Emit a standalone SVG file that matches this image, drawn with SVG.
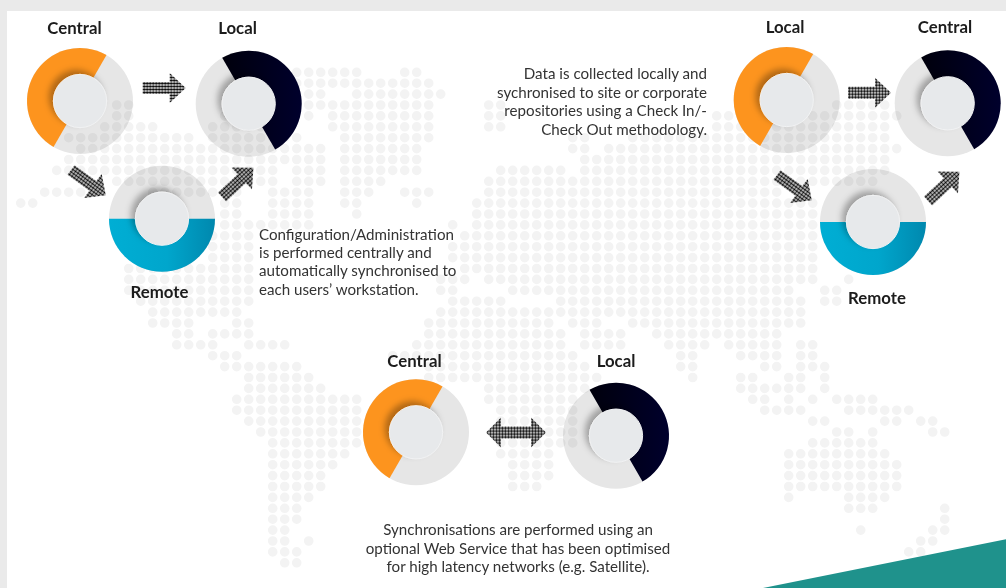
<svg xmlns="http://www.w3.org/2000/svg" width="1006" height="588" viewBox="0 0 1006 588">
<style>
text{font-family:Lato,"Open Sans","Liberation Sans",sans-serif}
.lbl{font-size:16.8px;font-weight:700;fill:#1c1c1c;text-anchor:middle}
.body{font-size:15.15px;fill:#333}
.map path{fill:none;stroke:#f3f3f3;stroke-width:9.6;stroke-linecap:round;stroke-dasharray:0 12}
.disc{fill:#e6e6e6;mix-blend-mode:multiply}
.hub{fill:#e7e9eb;stroke:#f1f2f3;stroke-width:1;filter:url(#sh)}
.arrow{fill:url(#dots)}
</style>
<defs>
<linearGradient id="gBlue" x1="0" x2="1" y1="0" y2="0"><stop offset="0" stop-color="#00aed4"/><stop offset=".55" stop-color="#00a6cc"/><stop offset="1" stop-color="#0088ae"/></linearGradient>
<linearGradient id="gNavy" x1="0" x2="1" y1="0" y2="0"><stop offset="0" stop-color="#00000c"/><stop offset="1" stop-color="#00002c"/></linearGradient>
<filter id="sh" x="-60%" y="-60%" width="220%" height="220%"><feDropShadow dx="-4" dy="-4" stdDeviation="3" flood-color="#000" flood-opacity=".3"/></filter>
<pattern id="dots" width="3" height="3" patternUnits="userSpaceOnUse"><circle cx="1.5" cy="1.5" r="1.32" fill="#000"/></pattern>
<circle id="disc" class="disc" r="53"/>
<circle id="hub" class="hub" r="26.6"/>
<path id="wOrange" fill="#fd941e" d="M26.5-45.9A53 53 0 0 0-26.5 45.9Z"/>
<path id="wNavy" fill="url(#gNavy)" d="M-26.5-45.9A53 53 0 0 1 26.5 45.9Z"/>
<path id="wBlue" fill="url(#gBlue)" d="M-53 0A53 53 0 0 0 53 0Z"/>
<path id="a1" class="arrow" d="M0-6H27V-15L43 0 27 15V6H0Z"/>
</defs>
<rect width="1006" height="588" fill="#eaeaea"/>
<rect x="7" y="11" width="999" height="577" fill="#fff"/>
<g id="map" class="map" transform="translate(8.7 72.3)">
<path d="M288 0H348.5M396 0H408.5"/>
<path transform="translate(0 10.9)" d="M288 0H420.5"/>
<path transform="translate(0 21.8)" d="M288 0H312.5M348 0H432.5"/>
<path transform="translate(0 32.7)" d="M108 0H120.5M288 0H420.5M480 0H492.5M828 0H876.5"/>
<path transform="translate(0 43.6)" d="M108 0H120.5M216 0H252.5M300 0H300.5M324 0H420.5M480 0H492.5M708 0H888.5"/>
<path transform="translate(0 54.5)" d="M96 0H144.5M204 0H264.5M324 0H420.5M480 0H492.5M708 0H876.5"/>
<path transform="translate(0 65.4)" d="M60 0H180.5M204 0H288.5M336 0H420.5M564 0H576.5M624 0H876.5"/>
<path transform="translate(0 76.3)" d="M72 0H312.5M336 0H408.5M564 0H576.5M600 0H888.5"/>
<path transform="translate(0 87.2)" d="M60 0H312.5M336 0H408.5M576 0H876.5"/>
<path transform="translate(0 98.1)" d="M48 0H264.5M288 0H312.5M336 0H408.5M492 0H552.5M576 0H876.5"/>
<path transform="translate(0 109)" d="M108 0H264.5M288 0H312.5M336 0H372.5M480 0H864.5"/>
<path transform="translate(0 119.9)" d="M36 0H72.5M144 0H228.5M264 0H300.5M336 0H360.5M396 0H420.5M480 0H768.5"/>
<path transform="translate(0 130.8)" d="M12 0H24.5M216 0H228.5M264 0H300.5M336 0H348.5M408 0H408.5M468 0H804.5"/>
<path transform="translate(0 141.7)" d="M216 0H228.5M264 0H300.5M348 0H348.5M468 0H804.5"/>
<path transform="translate(0 152.6)" d="M216 0H300.5M444 0H444.5M468 0H804.5"/>
<path transform="translate(0 163.5)" d="M204 0H240.5M456 0H804.5"/>
<path transform="translate(0 174.4)" d="M204 0H240.5M444 0H804.5"/>
<path transform="translate(0 185.3)" d="M204 0H240.5M444 0H804.5"/>
<path transform="translate(0 196.2)" d="M120 0H240.5M456 0H804.5"/>
<path transform="translate(0 207.1)" d="M120 0H240.5M432 0H456.5M480 0H804.5M840 0H840.5"/>
<path transform="translate(0 218)" d="M120 0H240.5M432 0H444.5M504 0H780.5M816 0H828.5"/>
<path transform="translate(0 228.9)" d="M132 0H240.5M444 0H492.5M552 0H792.5M816 0H828.5"/>
<path transform="translate(0 239.8)" d="M144 0H228.5M432 0H792.5"/>
<path transform="translate(0 250.7)" d="M144 0H180.5M228 0H240.5M420 0H540.5M564 0H588.5M624 0H792.5"/>
<path transform="translate(0 261.6)" d="M168 0H180.5M204 0H240.5M420 0H552.5M576 0H612.5M648 0H768.5"/>
<path transform="translate(0 272.5)" d="M168 0H204.5M240 0H276.5M408 0H552.5M576 0H612.5M660 0H696.5M720 0H768.5M792 0H804.5"/>
<path transform="translate(0 283.4)" d="M204 0H228.5M384 0H564.5M672 0H684.5M732 0H768.5M792 0H804.5"/>
<path transform="translate(0 294.3)" d="M216 0H288.5M420 0H576.5M672 0H684.5M756 0H768.5M792 0H816.5"/>
<path transform="translate(0 305.2)" d="M240 0H300.5M420 0H588.5M684 0H684.5M732 0H744.5M780 0H792.5M816 0H816.5"/>
<path transform="translate(0 316.1)" d="M240 0H312.5M480 0H576.5M732 0H792.5M816 0H816.5"/>
<path transform="translate(0 327)" d="M228 0H348.5M480 0H564.5M744 0H756.5M780 0H780.5M804 0H804.5M828 0H864.5"/>
<path transform="translate(0 337.9)" d="M228 0H348.5M492 0H564.5M756 0H792.5M840 0H900.5"/>
<path transform="translate(0 348.8)" d="M240 0H348.5M492 0H564.5M804 0H816.5M876 0H888.5M912 0H924.5"/>
<path transform="translate(0 359.7)" d="M252 0H348.5M492 0H564.5M828 0H840.5M864 0H864.5M924 0H936.5"/>
<path transform="translate(0 370.6)" d="M264 0H348.5M492 0H564.5M804 0H864.5"/>
<path transform="translate(0 381.5)" d="M264 0H336.5M492 0H540.5M780 0H876.5"/>
<path transform="translate(0 392.4)" d="M264 0H324.5M504 0H540.5M780 0H888.5"/>
<path transform="translate(0 403.3)" d="M264 0H312.5M504 0H540.5M780 0H888.5"/>
<path transform="translate(0 414.2)" d="M264 0H312.5M504 0H528.5M780 0H888.5"/>
<path transform="translate(0 425.1)" d="M264 0H300.5M780 0H780.5M840 0H876.5"/>
<path transform="translate(0 436)" d="M264 0H288.5M840 0H864.5M936 0H936.5"/>
<path transform="translate(0 446.9)" d="M264 0H288.5M936 0H936.5"/>
<path transform="translate(0 457.8)" d="M264 0H276.5M852 0H852.5M924 0H936.5"/>
<path transform="translate(0 468.7)" d="M264 0H276.5M300 0H300.5M912 0H924.5"/>
<path transform="translate(0 479.6)" d="M264 0H288.5M900 0H912.5"/>
<path transform="translate(0 490.5)" d="M276 0H288.5"/>
</g>
<path id="corner" fill="#1f928c" d="M763 588L1006 539.3V588Z"/>
<g id="connectors">
<use href="#a1" transform="translate(142.7 88)"/>
<use href="#a1" transform="translate(71 170) rotate(36)"/>
<use href="#a1" transform="translate(222 197) rotate(-43)"/>
<use href="#a1" transform="translate(848 92.7)"/>
<use href="#a1" transform="translate(777 175) rotate(36)"/>
<use href="#a1" transform="translate(928 201) rotate(-43)"/>
<path class="arrow" transform="translate(486 432.6)" d="M0 0L15-15V-6H45V-15L60 0 45 15V6H15V15Z"/>
</g>
<g id="tl-central" transform="translate(80 101)"><use href="#disc"/><use href="#wOrange"/><use href="#hub"/></g>
<g id="tl-local" transform="translate(248.7 103.7)"><use href="#disc"/><use href="#wNavy"/><use href="#hub"/></g>
<g id="tl-remote" transform="translate(162 218.7)"><use href="#disc"/><use href="#wBlue"/><use href="#hub"/></g>
<g id="tr-local" transform="translate(786.7 100)"><use href="#disc"/><use href="#wOrange"/><use href="#hub"/></g>
<g id="tr-central" transform="translate(947.7 103.3)"><use href="#disc"/><use href="#wNavy"/><use href="#hub"/></g>
<g id="tr-remote" transform="translate(873 222)"><use href="#disc"/><use href="#wBlue"/><use href="#hub"/></g>
<g id="b-central" transform="translate(416 432.3)"><use href="#disc"/><use href="#wOrange"/><use href="#hub"/></g>
<g id="b-local" transform="translate(616 435.7)"><use href="#disc"/><use href="#wNavy"/><use href="#hub"/></g>
<g id="labels">
<text class="lbl" x="74.5" y="34">Central</text>
<text class="lbl" x="237.5" y="34">Local</text>
<text class="lbl" x="159.5" y="298">Remote</text>
<text class="lbl" x="785" y="33">Local</text>
<text class="lbl" x="945" y="33">Central</text>
<text class="lbl" x="877" y="304">Remote</text>
<text class="lbl" x="414.5" y="367">Central</text>
<text class="lbl" x="616" y="367">Local</text>
</g>
<g id="captions">
<text class="body" x="259" y="239.5">Configuration/Administration</text>
<text class="body" x="259" y="258">is performed centrally and</text>
<text class="body" x="259" y="276">automatically synchronised to</text>
<text class="body" x="259" y="294.5">each users’ workstation.</text>
<text class="body" text-anchor="end" x="707" y="79">Data is collected locally and</text>
<text class="body" text-anchor="end" x="707" y="97.5">sychronised to site or corporate</text>
<text class="body" text-anchor="end" x="707" y="116">repositories using a Check In/-</text>
<text class="body" text-anchor="end" x="707" y="134.5">Check Out methodology.</text>
<text class="body" text-anchor="middle" x="518" y="535">Synchronisations are performed using an</text>
<text class="body" text-anchor="middle" x="518" y="553.5">optional Web Service that has been optimised</text>
<text class="body" text-anchor="middle" x="518" y="572">for high latency networks (e.g. Satellite).</text>
</g>
</svg>
